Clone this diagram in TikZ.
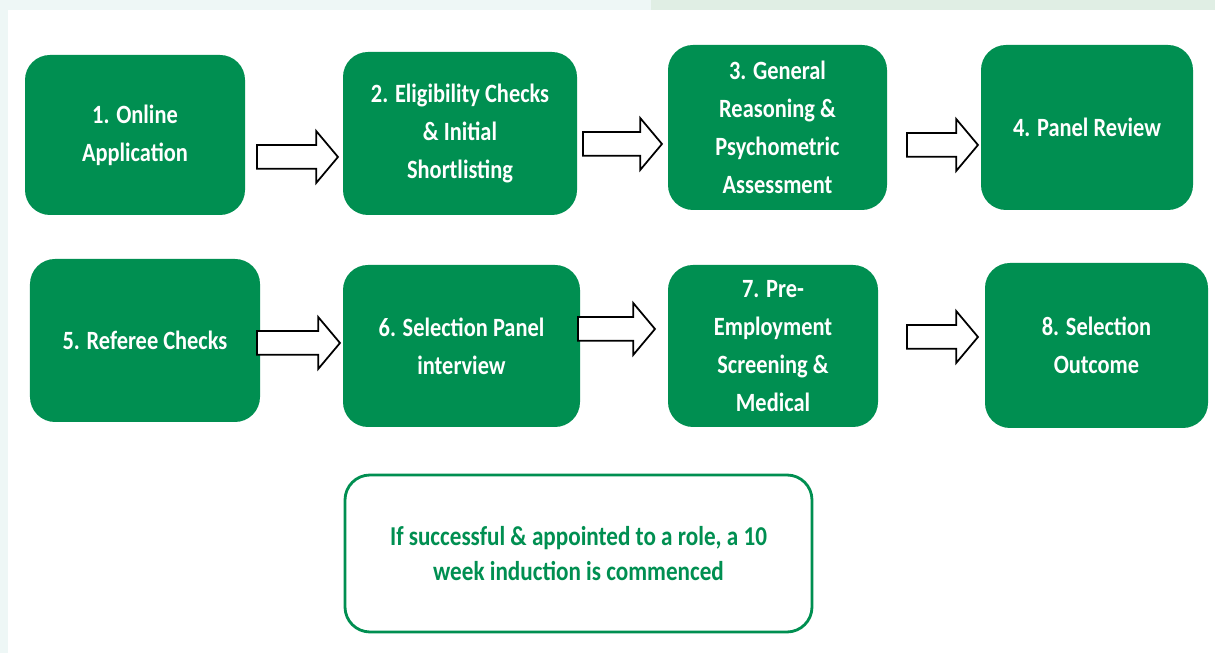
\documentclass[tikz,border=0pt]{standalone}
\usepackage{fontspec}
\setmainfont{Carlito}[FakeStretch=0.85]
\usetikzlibrary{shapes.arrows}
\definecolor{stepgreen}{RGB}{0,143,81}
\definecolor{edgeblue}{RGB}{238,247,246}
\definecolor{edgegreen}{RGB}{224,238,228}

\begin{document}
\begin{tikzpicture}[>=latex,
  stepbox/.style={fill=stepgreen,rounded corners=0.5cm,text=white,align=center,
    font=\bfseries\fontsize{15}{21.6}\selectfont,inner sep=0pt},
  notebox/.style={draw=stepgreen,line width=1.6pt,fill=white,rounded corners=0.5cm,
    text=stepgreen,align=center,font=\bfseries\fontsize{15.5}{20}\selectfont,inner sep=0pt},
  flowarrow/.style={single arrow,draw=black,fill=white,line width=1pt,inner xsep=0pt,
    inner ysep=0.22cm,single arrow head extend=0.28cm,single arrow tip angle=100}]
\useasboundingbox (0,0) rectangle (24.3,13.06);
\fill[edgeblue] (0,0) rectangle (24.3,13.06);
\fill[edgegreen] (13.02,12.86) rectangle (24.3,13.06);
\fill[white] (0.16,0) rectangle (24.3,12.86);

\node[stepbox,minimum width=4.40cm,minimum height=3.20cm] (online) at (2.70,10.36) {1. Online\\Application};
\node[stepbox,minimum width=4.68cm,minimum height=3.26cm] (elig) at (9.20,10.39) {2. Eligibility Checks\\\& Initial\\Shortlisting};
\node[stepbox,minimum width=4.38cm,minimum height=3.30cm] (reason) at (15.55,10.51) {3. General\\Reasoning \&\\Psychometric\\Assessment};
\node[stepbox,minimum width=4.24cm,minimum height=3.30cm] (panel) at (21.74,10.51) {4. Panel Review};
\node[stepbox,minimum width=4.60cm,minimum height=3.26cm] (referee) at (2.90,6.25) {5. Referee Checks};
\node[stepbox,minimum width=4.74cm,minimum height=3.24cm] (interview) at (9.23,6.14) {6. Selection Panel\\interview};
\node[stepbox,minimum width=4.20cm,minimum height=3.24cm] (screen) at (15.46,6.14) {7. Pre-\\Employment\\Screening \&\\Medical};
\node[stepbox,minimum width=4.46cm,minimum height=3.30cm] (outcome) at (21.93,6.15) {8. Selection\\Outcome};
\node[notebox,minimum width=9.34cm,minimum height=3.14cm] (induct) at (11.57,1.99) {If successful \& appointed to a role, a 10\\week induction is commenced};

\node[flowarrow,minimum height=1.62cm] (a12) at (5.85,9.92) {};
\node[flowarrow,minimum height=1.58cm] (a23) at (12.35,10.18) {};
\node[flowarrow,minimum height=1.42cm] (a34) at (18.75,10.16) {};
\node[flowarrow,minimum height=1.66cm] (a56) at (5.87,6.20) {};
\node[flowarrow,minimum height=1.54cm] (a67) at (12.23,6.48) {};
\node[flowarrow,minimum height=1.42cm] (a78) at (18.75,6.32) {};
\end{tikzpicture}
\end{document}
